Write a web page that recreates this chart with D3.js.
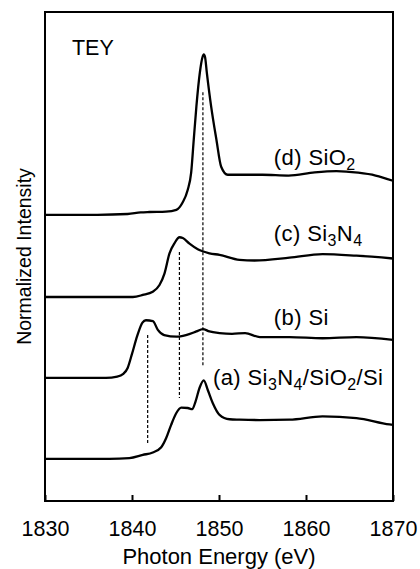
<!DOCTYPE html>
<html>
<head>
<meta charset="utf-8">
<script src="https://cdn.jsdelivr.net/npm/d3@7"></script>
<style>
  body { margin: 0; background: #fff; }
  text { font-family: "Liberation Sans", Arial, sans-serif; fill: #000; }
</style>
</head>
<body>
<div id="chart"></div>
<script>
// spectra: photon energy (eV) and normalized intensity
var energyA = [1830, 1837.4, 1839.7, 1841.24, 1842.39, 1843.36, 1843.93, 1844.5, 1845.08, 1845.66, 1846.41, 1846.92, 1847.3, 1847.76, 1848.25, 1848.71, 1849.29, 1850.06, 1851.21, 1852.36, 1854.66, 1858.1, 1861.9, 1865.8, 1869.6, 1870]
var intensA = [0, 0, 0.02, 0.1, 0.16, 0.29, 0.52, 0.85, 1.14, 1.28, 1.27, 1.24, 1.43, 1.77, 1.96, 1.72, 1.39, 1.1, 0.99, 0.98, 0.97, 0.98, 1.06, 1.02, 0.86, 0.85]

var energyB = [1830, 1837, 1838.3, 1839.0, 1839.5, 1840.0, 1840.6, 1841.2, 1841.6, 1842.4, 1842.97, 1843.7, 1845.1, 1846.2, 1847.4, 1848.14, 1848.9, 1850.06, 1851.5, 1853.0, 1854.7, 1858.1, 1861.9, 1865.8, 1870]
var intensB = [0, 0, 0.03, 0.1, 0.25, 0.6, 1.05, 1.38, 1.44, 1.42, 1.2, 1.07, 1.03, 1.07, 1.16, 1.22, 1.16, 1.12, 1.1, 1.12, 1.02, 1.02, 0.99, 1.02, 0.95]

var energyC = [1830, 1838, 1840.1, 1841.24, 1842.39, 1843.16, 1843.74, 1844.31, 1844.88, 1845.46, 1845.84, 1846.61, 1847.56, 1848.91, 1850.06, 1852.36, 1854.08, 1858.1, 1861.9, 1865.8, 1870]
var intensC = [0, 0, 0, 0.05, 0.13, 0.3, 0.59, 1.09, 1.34, 1.49, 1.47, 1.33, 1.19, 1.09, 1.05, 0.925, 0.91, 0.98, 1.07, 1.03, 0.96]

var energyD = [1830, 1836, 1839.5, 1841, 1842, 1843.9, 1845.1, 1845.8, 1846.4, 1846.8, 1847.1, 1847.4, 1847.8, 1848.1, 1848.25, 1848.4, 1848.6, 1849.1, 1849.7, 1850.25, 1851.0, 1852.4, 1855, 1858, 1861, 1863.5, 1866, 1868, 1870]
var intensD = [0, 0, 0.02, 0.06, 0.07, 0.08, 0.125, 0.30, 0.62, 1.05, 1.88, 2.7, 3.55, 3.93, 4.0, 3.93, 3.55, 2.7, 1.88, 1.2, 1.0, 1.0, 1.0, 0.98, 1.06, 1.09, 1.05, 0.98, 0.85]

// vertical offsets of the stacked spectra
var offsets = [1.05, 3.07, 5.09, 7.14]

// dashed guides: energy, top and bottom (plot units)
var guideE = [1841.8, 1845.45, 1848.15]
var guideTop = [4.14, 6.21, 10.2]
var guideBottom = [1.45, 2.57, 3.37]

var xTicks = [1830, 1840, 1850, 1860, 1870]

var series = [
  { e: energyA, v: intensA, off: offsets[0] },
  { e: energyB, v: intensB, off: offsets[1] },
  { e: energyC, v: intensC, off: offsets[2] },
  { e: energyD, v: intensD, off: offsets[3] }
]

var W = 420
var H = 569
var margin = { left: 45, right: 27, top: 12, bottom: 68 }

var svg = d3.select('#chart').append('svg')
  .attr('width', W)
  .attr('height', H)

var x = d3.scaleLinear().domain([1830, 1870]).range([margin.left, W - margin.right])
var y = d3.scaleLinear().domain([0, 12.2]).range([H - margin.bottom, margin.top])

// dashed guides
svg.selectAll('.guide')
  .data(guideE)
  .enter().append('line')
  .attr('class', 'guide')
  .attr('x1', function (d) { return x(d) })
  .attr('x2', function (d) { return x(d) })
  .attr('y1', function (d, i) { return y(guideTop[i]) })
  .attr('y2', function (d, i) { return y(guideBottom[i]) })
  .attr('stroke', '#000')
  .attr('stroke-width', 1.2)
  .attr('stroke-dasharray', '3,2')

var line = d3.line()
  .x(function (d) { return x(d[0]) })
  .y(function (d) { return y(d[1]) })
  .curve(d3.curveMonotoneX)

series.forEach(function (s) {
  var pts = s.e.map(function (e, i) { return [e, s.v[i] + s.off] })
  svg.append('path')
    .datum(pts)
    .attr('d', line)
    .attr('fill', 'none')
    .attr('stroke', '#000')
    .attr('stroke-width', 2.3)
    .attr('stroke-linejoin', 'round')
})

// frame
svg.append('rect')
  .attr('x', x(1830))
  .attr('y', y(12.2))
  .attr('width', x(1870) - x(1830))
  .attr('height', y(0) - y(12.2))
  .attr('fill', 'none')
  .attr('stroke', '#000')
  .attr('stroke-width', 2)

// bottom axis, ticks pointing inward
var xAxis = d3.axisBottom(x).tickValues(xTicks).tickSize(-6).tickPadding(20).tickFormat(d3.format('d'))
var gx = svg.append('g')
  .attr('transform', 'translate(0,' + y(0) + ')')
  .call(xAxis)
gx.select('.domain').remove()
gx.selectAll('.tick line').attr('stroke', '#000').attr('stroke-width', 2)
gx.selectAll('.tick text')
  .attr('font-size', 21.5)
  .attr('font-family', '"Liberation Sans", Arial, sans-serif')
  .attr('fill', '#000')

svg.append('text')
  .attr('x', x(1850))
  .attr('y', 564)
  .attr('text-anchor', 'middle')
  .attr('font-size', 22)
  .text('Photon Energy (eV)')

svg.append('text')
  .attr('transform', 'translate(31,' + y(6.1) + ') rotate(-90)')
  .attr('text-anchor', 'middle')
  .attr('font-size', 19.5)
  .text('Normalized Intensity')

svg.append('text')
  .attr('x', x(1833.1))
  .attr('y', y(11.13))
  .attr('font-size', 21.5)
  .text('TEY')

// curve labels with subscripts
function label (ex, vy, parts) {
  var t = svg.append('text')
    .attr('x', x(ex))
    .attr('y', y(vy))
    .attr('font-size', 22)
    .attr('letter-spacing', 0.4)
  parts.forEach(function (p) {
    if (p.sub) {
      t.append('tspan').attr('font-size', 16).attr('dy', 5).text(p.s)
    } else {
      t.append('tspan').attr('dy', p.after ? -5 : 0).text(p.s)
    }
  })
}

label(1856.3, 8.38, [{ s: '(d) SiO' }, { s: '2', sub: true }])
label(1856.3, 6.49, [{ s: '(c) Si' }, { s: '3', sub: true }, { s: 'N', after: true }, { s: '4', sub: true }])
label(1856.3, 4.39, [{ s: '(b) Si' }])
label(1849.3, 2.89, [{ s: '(a) Si' }, { s: '3', sub: true }, { s: 'N', after: true }, { s: '4', sub: true }, { s: '/SiO', after: true }, { s: '2', sub: true }, { s: '/Si', after: true }])
</script>
</body>
</html>
